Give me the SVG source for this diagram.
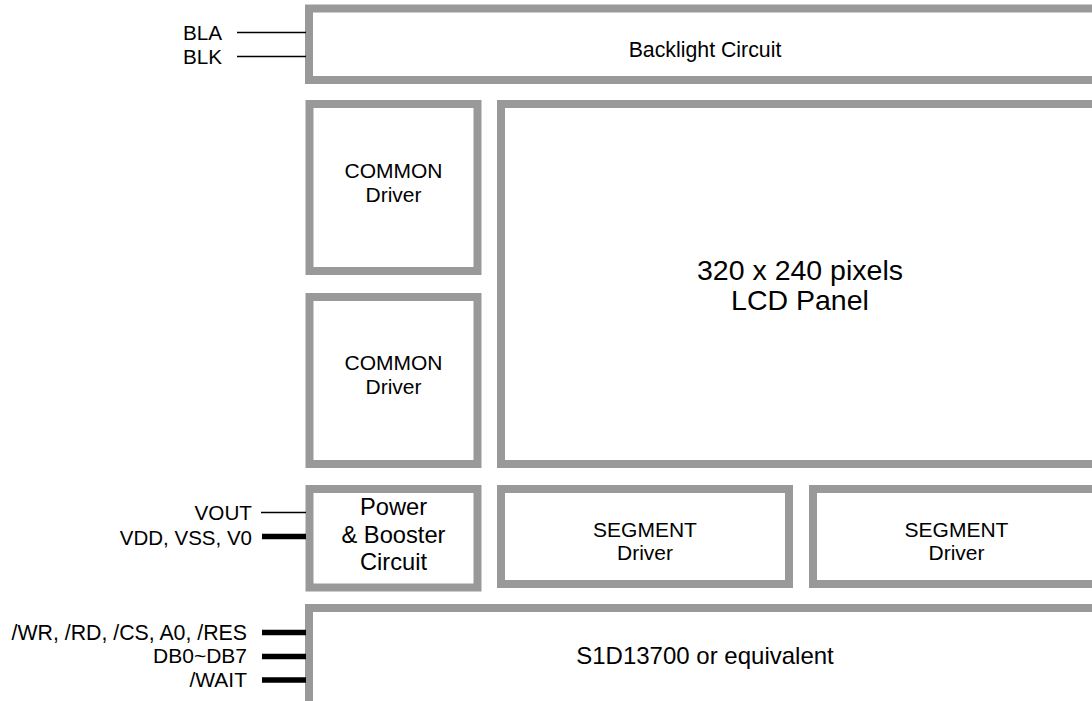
<svg xmlns="http://www.w3.org/2000/svg" width="1092" height="701" viewBox="0 0 1092 701">
<style>
.box{fill:#fff;stroke:#999;stroke-width:8}
text{font-family:"Liberation Sans",Arial,sans-serif;fill:#000}
.c{text-anchor:middle}
.r{text-anchor:end}
.thin{stroke:#000;stroke-width:1.6;fill:none}
.thick{stroke:#000;stroke-width:5.5;fill:none}
</style>
<rect width="1092" height="701" fill="#fff"/>
<g id="backlight">
<rect class="box" x="309" y="8.5" width="791" height="71.5"/>
<text class="c" x="705" y="57" font-size="21.3">Backlight Circuit</text>
</g>
<g id="common1">
<rect class="box" x="309.5" y="104" width="168" height="167"/>
<text class="c" x="393.5" y="177.5" font-size="21">COMMON</text>
<text class="c" x="393.5" y="201.5" font-size="21">Driver</text>
</g>
<g id="common2">
<rect class="box" x="309.5" y="297" width="168" height="167"/>
<text class="c" x="393.5" y="369.5" font-size="21">COMMON</text>
<text class="c" x="393.5" y="394" font-size="21">Driver</text>
</g>
<g id="lcd">
<rect class="box" x="501" y="104" width="599" height="360"/>
<text class="c" x="800" y="280" font-size="28.5">320 x 240 pixels</text>
<text class="c" x="800" y="310" font-size="28.5">LCD Panel</text>
</g>
<g id="power">
<rect class="box" x="309.5" y="489" width="168" height="98.5"/>
<text class="c" x="393.5" y="515" font-size="23.7">Power</text>
<text class="c" x="393.5" y="542.5" font-size="23.7">&amp; Booster</text>
<text class="c" x="393.5" y="569.5" font-size="23.7">Circuit</text>
</g>
<g id="segment1">
<rect class="box" x="501" y="489" width="288" height="95"/>
<text class="c" x="645" y="536.5" font-size="21">SEGMENT</text>
<text class="c" x="645" y="560" font-size="21">Driver</text>
</g>
<g id="segment2">
<rect class="box" x="813" y="489" width="287" height="95"/>
<text class="c" x="956.5" y="536.5" font-size="21">SEGMENT</text>
<text class="c" x="956.5" y="560" font-size="21">Driver</text>
</g>
<g id="controller">
<rect class="box" x="309" y="608" width="791" height="120"/>
<text class="c" x="705" y="664" font-size="24">S1D13700 or equivalent</text>
</g>
<g id="connectors">
<line class="thin" x1="237" y1="32.5" x2="306" y2="32.5"/>
<line class="thin" x1="237" y1="56.5" x2="306" y2="56.5"/>
<line class="thin" x1="261" y1="512.5" x2="306" y2="512.5"/>
<line class="thick" x1="262" y1="536.5" x2="306" y2="536.5"/>
<line class="thick" x1="262" y1="632.5" x2="306" y2="632.5"/>
<line class="thick" x1="262" y1="656.5" x2="306" y2="656.5"/>
<line class="thick" x1="262" y1="680" x2="306" y2="680"/>
</g>
<g id="labels">
<text class="r" x="222" y="39.5" font-size="20.7">BLA</text>
<text class="r" x="222" y="64" font-size="20.7">BLK</text>
<text class="r" x="252" y="519.5" font-size="20.7">VOUT</text>
<text class="r" x="252" y="545" font-size="20.5">VDD, VSS, V0</text>
<text class="r" x="247" y="639.5" font-size="21.3">/WR, /RD, /CS, A0, /RES</text>
<text class="r" x="247" y="663" font-size="21">DB0~DB7</text>
<text class="r" x="247" y="687" font-size="21">/WAIT</text>
</g>
</svg>
